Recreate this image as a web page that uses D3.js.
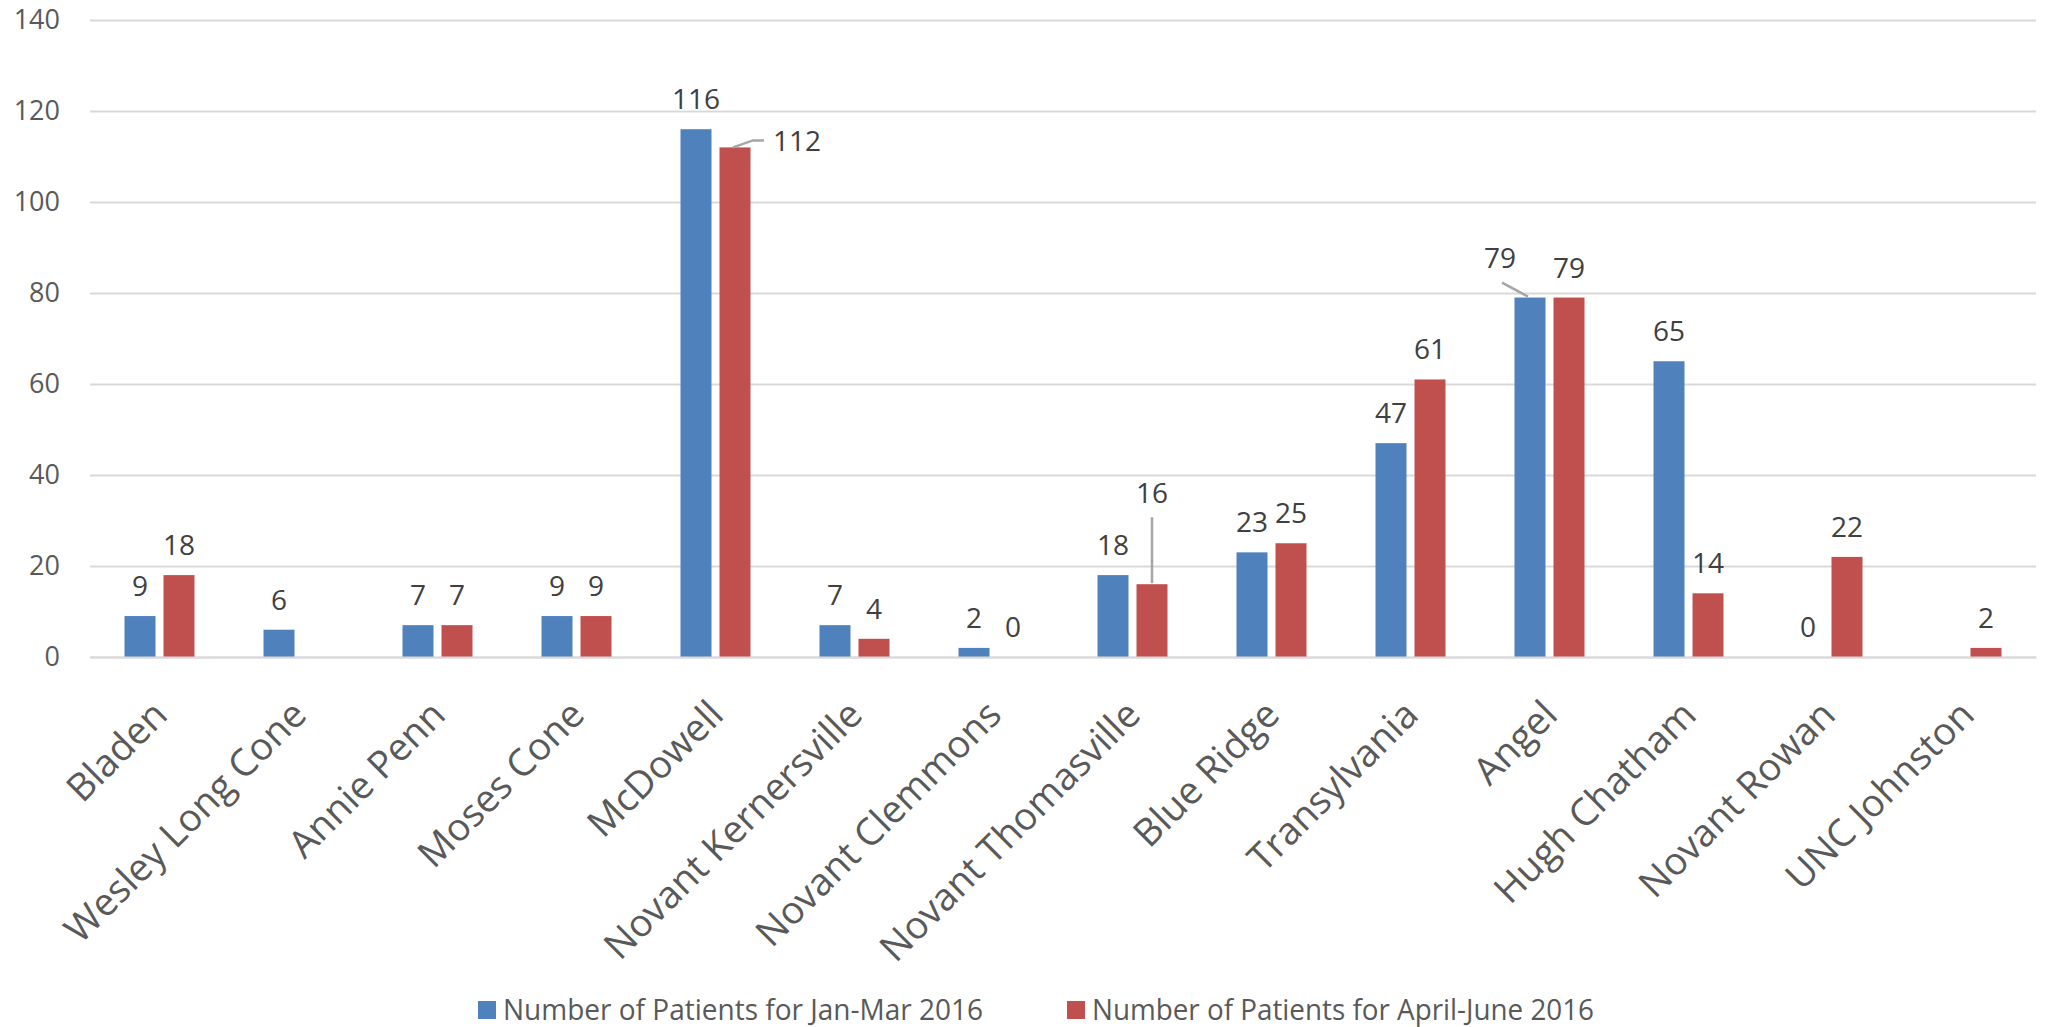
<!DOCTYPE html>
<html>
<head>
<meta charset="utf-8">
<script src="https://cdn.jsdelivr.net/npm/d3@7"></script>
<style>
  html, body { margin: 0; padding: 0; background: #fff; }
  svg { display: block; }
</style>
</head>
<body>
<svg id="chart" width="2046" height="1027"></svg>
<script>
// ---- data ----
const categories = ["Bladen", "Wesley Long Cone", "Annie Penn", "Moses Cone", "McDowell",
  "Novant Kernersville", "Novant Clemmons", "Novant Thomasville", "Blue Ridge",
  "Transylvania", "Angel", "Hugh Chatham", "Novant Rowan", "UNC Johnston"];
const seriesNames = ["Number of Patients for Jan-Mar 2016", "Number of Patients for April-June 2016"];
const janMar = [9, 6, 7, 9, 116, 7, 2, 18, 23, 47, 79, 65, 0, null];
const aprJun = [18, null, 7, 9, 112, 4, 0, 16, 25, 61, 79, 14, 22, 2];
const yTicks = [0, 20, 40, 60, 80, 100, 120, 140];

// ---- style / layout ----
const colors = ["#4f81bd", "#c0504d"];
const plot = { left: 90, right: 2036, top: 20, bottom: 657 };
const callouts = {
  "McDowell|1": "side",
  "Angel|0": "left",
  "Novant Thomasville|1": "up"
};

const svg = d3.select("#chart");
const rows = categories.map((c, i) => ({ cat: c, vals: [janMar[i], aprJun[i]] }));

const x0 = d3.scaleBand().domain(categories).range([plot.left, plot.right]).padding(0);
const bw = x0.bandwidth();
const groupW = 70;
const x1 = d3.scaleBand().domain([0, 1])
  .range([(bw - groupW) / 2, (bw + groupW) / 2]).paddingInner(8 / 39).paddingOuter(0);
const y = d3.scaleLinear().domain([0, 140]).range([plot.bottom, plot.top]);

// gridlines + y labels
const yAxis = d3.axisLeft(y).tickValues(yTicks).tickSize(-(plot.right - plot.left)).tickPadding(30);
const gy = svg.append("g").attr("transform", `translate(${plot.left},0)`).call(yAxis);
gy.select(".domain").remove();
gy.selectAll(".tick line").attr("stroke", "#d9d9d9").attr("stroke-width", 2);
gy.selectAll(".tick text")
  .attr("fill", "#595959")
  .style("font-family", "'Open Sans', sans-serif")
  .style("font-size", "27px");

// bars
const groups = svg.append("g").selectAll("g").data(rows).join("g")
  .attr("transform", d => `translate(${x0(d.cat)},0)`);

groups.selectAll("rect")
  .data(d => d.vals.map((v, s) => ({ cat: d.cat, v, s })).filter(e => e.v !== null && e.v > 0))
  .join("rect")
  .attr("x", e => x1(e.s))
  .attr("width", x1.bandwidth())
  .attr("y", e => y(e.v))
  .attr("height", e => y(0) - y(e.v))
  .attr("fill", e => colors[e.s]);

// value labels
const labels = svg.append("g");
rows.forEach(d => {
  d.vals.forEach((v, s) => {
    if (v === null) return;
    const bx = x0(d.cat) + x1(s) + x1.bandwidth() / 2;
    const by = y(v);
    const c = callouts[d.cat + "|" + s];
    let tx = bx, ty = by - 20, anchor = "middle";
    if (c === "side") {
      tx = bx + 38; ty = by + 4; anchor = "start";
      labels.append("path")
        .attr("d", `M${bx - 2},${by} L${bx + 18},${by - 7} L${bx + 29},${by - 7}`)
        .attr("fill", "none").attr("stroke", "#a6a6a6").attr("stroke-width", 2.5);
    } else if (c === "left") {
      tx = bx - 30; ty = by - 30;
      labels.append("path")
        .attr("d", `M${bx - 2},${by - 1} L${bx - 28},${by - 15}`)
        .attr("fill", "none").attr("stroke", "#a6a6a6").attr("stroke-width", 2.5);
    } else if (c === "up") {
      ty = by - 81;
      labels.append("path")
        .attr("d", `M${bx},${by - 1} L${bx},${by - 67}`)
        .attr("fill", "none").attr("stroke", "#a6a6a6").attr("stroke-width", 2.5);
    }
    labels.append("text")
      .attr("x", tx).attr("y", ty)
      .attr("text-anchor", anchor)
      .attr("fill", "#404040")
      .style("font-family", "'Open Sans', sans-serif")
      .style("font-size", "28px")
      .text(v);
  });
});

// category labels (rotated)
const xAxis = d3.axisBottom(x0).tickSize(0).tickPadding(0);
const gx = svg.append("g").attr("transform", `translate(0,${plot.bottom})`).call(xAxis);
gx.select(".domain").attr("stroke", "#d9d9d9").attr("stroke-width", 2);
gx.selectAll(".tick text")
  .attr("fill", "#595959")
  .style("font-family", "'Open Sans', sans-serif")
  .style("font-size", "38px")
  .attr("text-anchor", "end")
  .attr("dy", "0")
  .attr("transform", "translate(10,60) rotate(-45)");

// legend
const legendX = [478, 1067];
const legendLen = [480, 502];
const lg = svg.append("g");
seriesNames.forEach((name, i) => {
  lg.append("rect").attr("x", legendX[i]).attr("y", 1001).attr("width", 18).attr("height", 18).attr("fill", colors[i]);
  lg.append("text").attr("x", legendX[i] + 25).attr("y", 1020)
    .attr("fill", "#595959")
    .attr("textLength", legendLen[i])
    .attr("lengthAdjust", "spacingAndGlyphs")
    .style("font-family", "'Open Sans', sans-serif")
    .style("font-size", "29px")
    .text(name);
});
</script>
</body>
</html>
